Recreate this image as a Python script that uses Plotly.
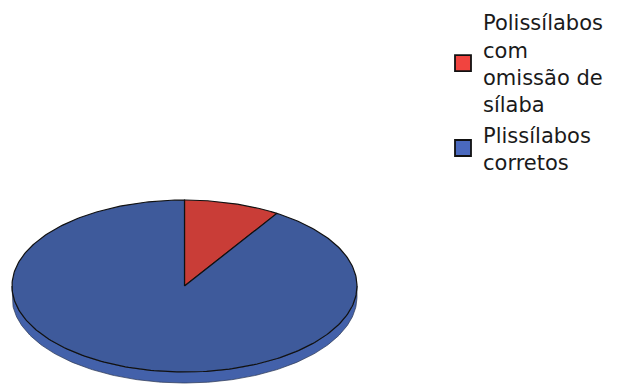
import numpy as np
import plotly.graph_objects as go

# ---- data ----
labels = ["Polissílabos com omissão de sílaba", "Plissílabos corretos"]
legend_labels = ["Polissílabos<br>com<br>omissão de<br>sílaba", "Plissílabos<br>corretos"]
values = [9, 91]

# ---- styles ----
face_colors = ["#C93D37", "#3E5A9B"]
side_colors = ["#A8322C", "#4361AA"]
legend_colors = ["#F1443F", "#4A69BE"]

W, H = 634, 385
CX, CY, RX, RY, DEPTH = 184.5, 286, 172.5, 86, 11

fig = go.Figure()

total = float(sum(values))
starts = np.concatenate([[0], np.cumsum(values)[:-1]]) / total * 2 * np.pi
ends = np.cumsum(values) / total * 2 * np.pi


def ell(t, dy=0.0):
    return CX + RX * np.sin(t), CY - RY * np.cos(t) + dy


# side walls (only the front half is visible)
for a, b, c in zip(starts, ends, side_colors):
    lo, hi = max(a, np.pi / 2), min(b, 3 * np.pi / 2)
    if lo < hi:
        ts = np.linspace(lo, hi, 200)
        xt, yt = ell(ts)
        xb, yb = ell(ts[::-1], DEPTH)
        xs = np.concatenate([xt, xb, xt[:1]])
        ys = np.concatenate([yt, yb, yt[:1]])
        fig.add_trace(go.Scatter(x=xs, y=ys, mode="lines", fill="toself",
                                 fillcolor=c, line=dict(color="#2a3550", width=0.7),
                                 hoverinfo="skip", showlegend=False))

# top faces
for a, b, c, name in zip(starts, ends, face_colors, labels):
    ts = np.linspace(a, b, 300)
    xa, ya = ell(ts)
    xs = np.concatenate([[CX], xa, [CX]])
    ys = np.concatenate([[CY], ya, [CY]])
    fig.add_trace(go.Scatter(x=xs, y=ys, mode="lines", fill="toself",
                             fillcolor=c, line=dict(color="#111111", width=1.2),
                             name=name, hoverinfo="name", showlegend=False))

# legend entries
for name, c in zip(legend_labels, legend_colors):
    fig.add_trace(go.Scatter(x=[None], y=[None], mode="markers", name=name,
                             marker=dict(symbol="square", size=16, color=c,
                                         line=dict(color="#111111", width=1.8))))

fig.update_layout(
    width=W, height=H,
    margin=dict(l=0, r=0, t=0, b=0),
    paper_bgcolor="white", plot_bgcolor="white",
    xaxis=dict(range=[0, W], visible=False, fixedrange=True),
    yaxis=dict(range=[H, 0], visible=False, fixedrange=True),
    legend=dict(x=443 / W, y=1 - 2 / H, xanchor="left", yanchor="top",
                font=dict(family="DejaVu Sans", size=21, color="#1a1a1a"),
                bgcolor="rgba(0,0,0,0)", itemsizing="trace", tracegroupgap=0),
    showlegend=True,
)

fig.write_html("out.html")
